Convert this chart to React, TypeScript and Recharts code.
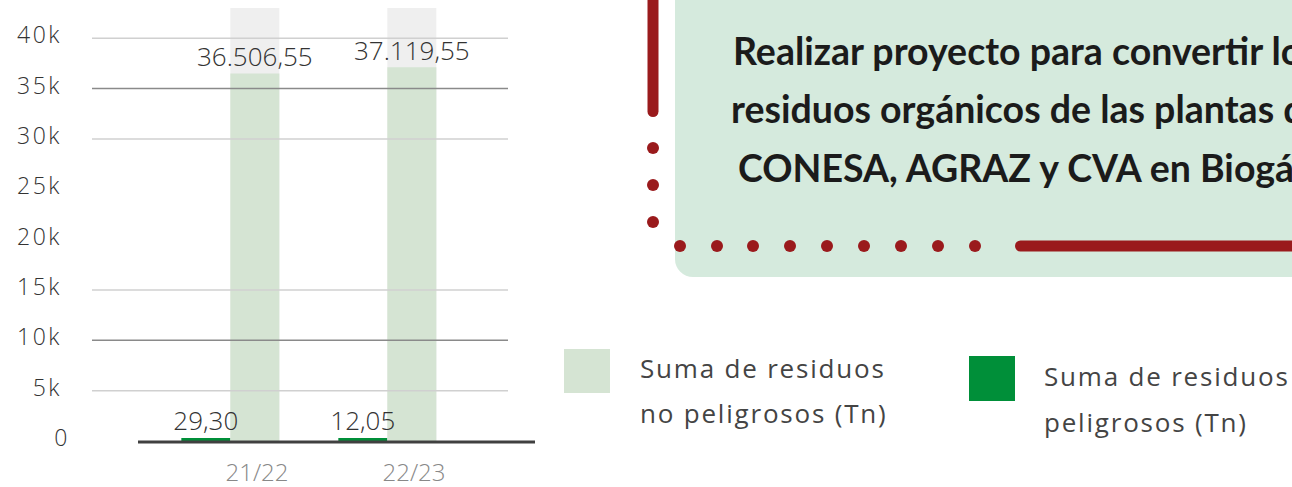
import React from 'react';
import { BarChart, Bar, XAxis, YAxis, ReferenceLine, LabelList } from 'recharts';

const categories = ['21/22', '22/23'];
const peligrosos = [29.3, 12.05];
const noPeligrosos = [36506.55, 37119.55];
const yTicks = [0, 5000, 10000, 15000, 20000, 25000, 30000, 35000, 40000];
const gridLight = [5000, 15000, 30000, 40000];
const gridDark = [10000, 35000];
const legendNoPel = ['Suma de residuos', 'no peligrosos (Tn)'];
const legendPel = ['Suma de residuos', 'peligrosos (Tn)'];
const calloutLines = [
  'Realizar proyecto para convertir los',
  'residuos orgánicos de las plantas de',
  'CONESA, AGRAZ y CVA en Biogás',
];

const data = categories.map((c, i) => ({ cat: c, pel: peligrosos[i], noPel: noPeligrosos[i] }));

const COLOR_PEL = '#008f39';
const COLOR_NOPEL = '#d5e4d3';
const RED = '#9a1a1c';
const FONT = '"Open Sans", sans-serif';

function fmtEs(v: number): string {
  const [i, d] = Number(v).toFixed(2).split('.');
  const withDots = i.replace(/\B(?=(\d{3})+(?!\d))/g, '.');
  return `${withDots},${d}`;
}

const YTick = (props: any) => {
  const { x, y, payload } = props;
  const v = payload.value;
  return (
    <text
      x={x + (v === 0 ? 8 : 0)}
      y={y}
      dy={5}
      textAnchor="end"
      fill="#333"
      fontSize={23}
      fontWeight={300}
      letterSpacing={2.5}
      fontFamily={FONT}
    >
      {v === 0 ? '0' : `${v / 1000}k`}
    </text>
  );
};

const XTick = (props: any) => {
  const { x, y, payload } = props;
  return (
    <text
      x={x + 27}
      y={y + 40}
      textAnchor="middle"
      fill="#888"
      fontSize={24}
      fontWeight={300}
      fontFamily={FONT}
    >
      {payload.value}
    </text>
  );
};

const BaseLine = (p: any) => (
  <line x1={p.x1 + 46} x2={p.x2 + 27} y1={p.y1 + 1} y2={p.y2 + 1} stroke="#404040" strokeWidth={3} />
);

const Decorations = () => {
  const vDots = [148, 185, 222];
  const hDots = [680, 717, 753, 790, 827, 864, 901, 938, 975];
  const lineYs = [65, 123, 182];
  const lineXs = [733, 731, 738];
  return (
    <svg width={1292} height={487} style={{ position: 'absolute', left: 0, top: 0 }}>
      <rect x={675} y={-40} width={700} height={317} rx={18} ry={18} fill="#d5eadd" />
      <line x1={653} y1={-10} x2={653} y2={111.5} stroke={RED} strokeWidth={11} strokeLinecap="round" />
      {vDots.map((cy) => (
        <circle key={cy} cx={653} cy={cy} r={6} fill={RED} />
      ))}
      {hDots.map((cx) => (
        <circle key={cx} cx={cx} cy={246} r={6} fill={RED} />
      ))}
      <line x1={1020.5} y1={246} x2={1320} y2={246} stroke={RED} strokeWidth={11} strokeLinecap="round" />
      {calloutLines.map((t, i) => (
        <text
          key={i}
          x={lineXs[i]}
          y={lineYs[i]}
          fill="#1b1b1b"
          fontFamily="Lato, sans-serif"
          fontWeight={700}
          fontSize={37.5}
        >
          {t}
        </text>
      ))}
      <rect x={564} y={349} width={46} height={44} fill={COLOR_NOPEL} />
      {legendNoPel.map((t, i) => (
        <text key={i} x={640} y={378 + i * 45} fill="#444" fontFamily={FONT} fontSize={26} letterSpacing={1.8}>
          {t}
        </text>
      ))}
      <rect x={969} y={356} width={46} height={45} fill={COLOR_PEL} />
      {legendPel.map((t, i) => (
        <text key={i} x={1044} y={386 + i * 46} fill="#444" fontFamily={FONT} fontSize={26} letterSpacing={1.8}>
          {t}
        </text>
      ))}
    </svg>
  );
};

export default function App() {
  return (
    <div
      style={{
        position: 'absolute',
        left: 0,
        top: 0,
        width: 1292,
        height: 487,
        overflow: 'hidden',
        background: '#fff',
      }}
    >
      <Decorations />
      <div style={{ position: 'absolute', left: 0, top: 0 }}>
        <BarChart
          width={560}
          height={487}
          data={data}
          margin={{ top: 8, right: 52, left: 0, bottom: 0 }}
          barCategoryGap="19%"
          barGap={0}
        >
          <XAxis
            dataKey="cat"
            axisLine={false}
            tickLine={false}
            tickSize={0}
            tickMargin={0}
            height={46}
            padding={{ left: 59.5, right: 42.5 }}
            tick={<XTick />}
          />
          <YAxis
            type="number"
            domain={[0, 43000]}
            ticks={yTicks}
            interval={0}
            axisLine={false}
            tickLine={false}
            tickSize={0}
            tickMargin={30}
            width={92}
            tick={<YTick />}
          />
          {gridLight.map((v) => (
            <ReferenceLine key={`l${v}`} y={v} stroke="#d0d0d0" strokeWidth={1.5} />
          ))}
          {gridDark.map((v) => (
            <ReferenceLine key={`d${v}`} y={v} stroke="#8a8a8a" strokeWidth={1.5} />
          ))}
          <Bar dataKey="pel" fill={COLOR_PEL} minPointSize={3} isAnimationActive={false}>
            <LabelList
              dataKey="pel"
              position="top"
              offset={8}
              formatter={(v: any) => fmtEs(v)}
              fill="#333"
              fontSize={26}
              fontWeight={300}
              fontFamily={FONT}
            />
          </Bar>
          <Bar dataKey="noPel" fill={COLOR_NOPEL} background={{ fill: '#efefef' }} isAnimationActive={false}>
            <LabelList
              dataKey="noPel"
              position="top"
              offset={7}
              formatter={(v: any) => fmtEs(v)}
              fill="#333"
              fontSize={26}
              fontWeight={300}
              fontFamily={FONT}
            />
          </Bar>
          <ReferenceLine y={0} shape={BaseLine} />
        </BarChart>
      </div>
    </div>
  );
}
